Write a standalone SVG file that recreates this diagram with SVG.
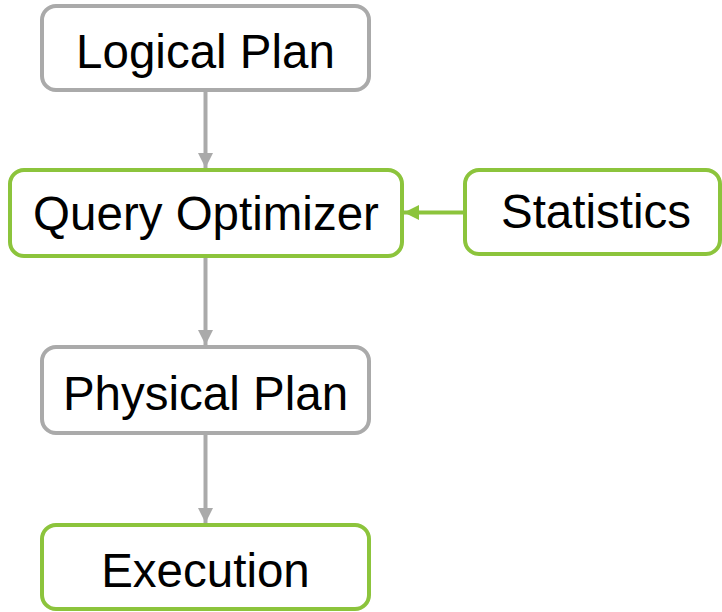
<svg xmlns="http://www.w3.org/2000/svg" width="722" height="612" viewBox="0 0 722 612">
<style>
.box{fill:#fff;stroke-width:4}
.gray{stroke:#aaaaaa}
.green{stroke:#8cc43c}
text{font-family:"Liberation Sans",Arial,sans-serif;font-size:47.5px;fill:#000;text-anchor:middle}
.edge{stroke-width:4;fill:none}
</style>
<defs>
<marker id="ag" markerUnits="userSpaceOnUse" markerWidth="16" markerHeight="16" refX="15" refY="8" orient="auto"><path d="M0,0.5 L15,8 L0,15.5 Z" fill="#aaaaaa"/></marker>
<marker id="agr" markerUnits="userSpaceOnUse" markerWidth="16" markerHeight="16" refX="15" refY="8" orient="auto"><path d="M0,0.5 L15,8 L0,15.5 Z" fill="#8cc43c"/></marker>
</defs>
<g id="connectors">
<line class="edge gray" x1="205.5" y1="92" x2="205.5" y2="168" marker-end="url(#ag)"/>
<line class="edge gray" x1="205.5" y1="258" x2="205.5" y2="345" marker-end="url(#ag)"/>
<line class="edge gray" x1="205.5" y1="435" x2="205.5" y2="523" marker-end="url(#ag)"/>
<line class="edge green" x1="463" y1="212.5" x2="404" y2="212.5" marker-end="url(#agr)"/>
</g>
<g id="logical-plan">
<rect class="box gray" x="42" y="6" width="327" height="84" rx="14"/>
<text x="205.5" y="68">Logical Plan</text>
</g>
<g id="query-optimizer">
<rect class="box green" x="10" y="170" width="392" height="86" rx="14"/>
<text x="206" y="230">Query Optimizer</text>
</g>
<g id="statistics">
<rect class="box green" x="465" y="170" width="255" height="84" rx="14"/>
<text x="596" y="228">Statistics</text>
</g>
<g id="physical-plan">
<rect class="box gray" x="42" y="347" width="327" height="86" rx="14"/>
<text x="205.5" y="410">Physical Plan</text>
</g>
<g id="execution">
<rect class="box green" x="42" y="525" width="327" height="84" rx="14"/>
<text x="205.5" y="587">Execution</text>
</g>
</svg>
